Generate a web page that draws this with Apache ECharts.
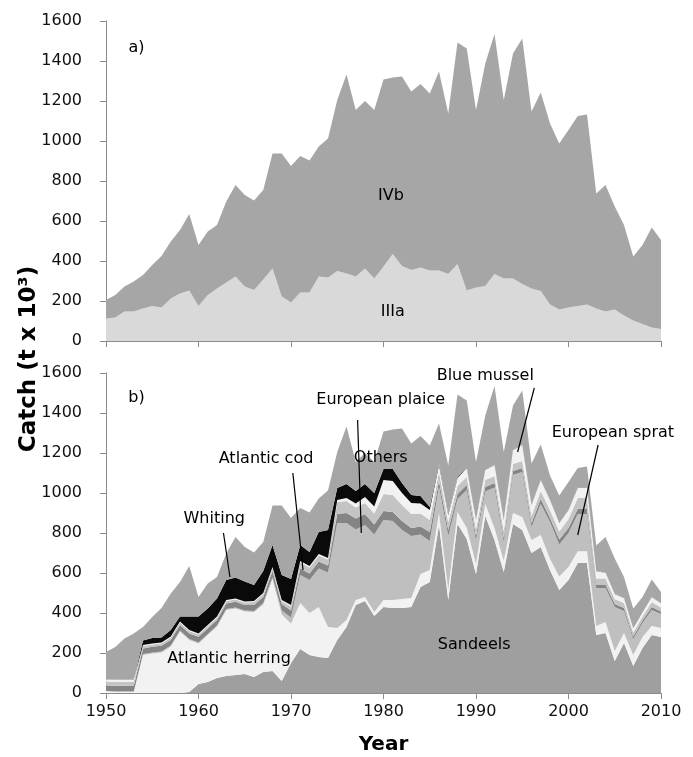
<!DOCTYPE html>
<html>
<head>
<meta charset="utf-8">
<title>Catch by area and species</title>
<script src="https://cdn.jsdelivr.net/npm/echarts@6/dist/echarts.min.js"></script>
<style>
  html, body { margin: 0; padding: 0; background: #fff; }
  #chart { width: 693px; height: 757px; }
</style>
</head>
<body>
<div id="chart"></div>
<script>
// years on the x axis
const years = [
  1950, 1951, 1952, 1953, 1954, 1955, 1956, 1957, 1958, 1959,
  1960, 1961, 1962, 1963, 1964, 1965, 1966, 1967, 1968, 1969,
  1970, 1971, 1972, 1973, 1974, 1975, 1976, 1977, 1978, 1979,
  1980, 1981, 1982, 1983, 1984, 1985, 1986, 1987, 1988, 1989,
  1990, 1991, 1992, 1993, 1994, 1995, 1996, 1997, 1998, 1999,
  2000, 2001, 2002, 2003, 2004, 2005, 2006, 2007, 2008, 2009,
  2010
]
const yTicks = [0, 200, 400, 600, 800, 1000, 1200, 1400, 1600]

// a) catch by area (t x 10^3)
const IIIa = [
  113, 118, 147, 147, 163, 175, 167, 213, 238, 252,
  175, 230, 263, 292, 322, 272, 255, 308, 363, 222,
  193, 243, 242, 322, 318, 350, 338, 322, 363, 313,
  372, 435, 375, 355, 367, 352, 352, 335, 385, 252,
  268, 275, 335, 312, 312, 285, 263, 250, 183, 158,
  167, 175, 183, 163, 147, 158, 127, 102, 85, 68,
  60
]
const IVb = [
  92, 112, 125, 150, 167, 205, 258, 284, 317, 383,
  305, 317, 317, 405, 458, 458, 447, 447, 575, 716,
  682, 682, 660, 650, 695, 855, 995, 833, 837, 842,
  936, 882, 947, 892, 918, 886, 995, 803, 1108, 1211,
  887, 1113, 1200, 893, 1126, 1228, 884, 992, 905, 830,
  888, 950, 950, 575, 633, 514, 453, 320, 395, 500,
  445
]

// b) catch by species (t x 10^3), bottom of the stack first
const sandeels = [
  0, 0, 0, 0, 0, 0, 0, 0, 0, 5,
  45, 55, 75, 85, 90, 95, 80, 105, 110, 60,
  150, 220, 190, 180, 175, 265, 330, 440, 460, 385,
  430, 425, 425, 430, 530, 555, 840, 465, 845, 770,
  595, 885, 765, 605, 845, 815, 700, 730, 615, 515,
  565, 650, 650, 290, 300, 160, 250, 135, 225, 290,
  280
]
const herring = [
  10, 8, 8, 8, 190, 198, 203, 232, 307, 260,
  203, 235, 257, 330, 333, 312, 325, 337, 460, 333,
  198, 230, 210, 250, 155, 60, 35, 25, 20, 20,
  35, 40, 45, 45, 65, 60, 60, 50, 60, 55,
  50, 60, 60, 55, 55, 65, 65, 60, 55, 67,
  65, 59, 59, 45, 55, 50, 50, 55, 55, 45,
  45
]
const sprat = [
  0, 0, 0, 0, 5, 5, 5, 5, 5, 5,
  5, 5, 5, 5, 5, 5, 5, 8, 10, 20,
  30, 140, 165, 193, 273, 525, 485, 353, 360, 387,
  400, 395, 345, 310, 198, 145, 130, 270, 65, 190,
  118, 63, 203, 95, 190, 225, 65, 155, 185, 160,
  170, 186, 186, 190, 170, 220, 110, 80, 70, 80,
  70
]
const plaice = [
  28, 28, 28, 28, 28, 28, 28, 28, 28, 28,
  28, 28, 28, 28, 28, 28, 30, 30, 30, 32,
  35, 33, 33, 35, 35, 45, 50, 55, 55, 50,
  45, 45, 45, 40, 40, 45, 30, 30, 25, 25,
  22, 22, 22, 20, 20, 20, 20, 25, 20, 25,
  25, 25, 25, 17, 18, 15, 15, 12, 12, 15,
  12
]
const cod = [
  20, 20, 20, 20, 12, 12, 12, 12, 12, 12,
  12, 12, 12, 12, 12, 12, 15, 15, 15, 15,
  20, 30, 30, 30, 30, 60, 60, 55, 55, 55,
  85, 85, 80, 70, 65, 60, 45, 40, 40, 40,
  35, 35, 35, 35, 35, 35, 35, 40, 40, 41,
  45, 55, 55, 30, 30, 25, 25, 20, 20, 25,
  20
]
const mussel = [
  10, 10, 10, 10, 5, 5, 5, 5, 5, 5,
  5, 5, 5, 5, 5, 5, 5, 5, 5, 5,
  7, 7, 7, 7, 7, 10, 15, 20, 30, 35,
  70, 70, 60, 55, 50, 50, 35, 35, 40, 45,
  45, 50, 55, 55, 70, 80, 55, 55, 50, 42,
  45, 50, 50, 35, 30, 25, 25, 20, 20, 25,
  20
]
const whiting = [
  0, 0, 0, 0, 22, 27, 25, 33, 25, 67,
  84, 83, 91, 100, 105, 100, 80, 110, 110, 125,
  130, 80, 70, 110, 140, 60, 70, 62, 65, 68,
  55, 60, 50, 40, 37, 15, 8, 5, 5, 3,
  1, 1, 1, 1, 1, 1, 1, 1, 1, 1,
  1, 1, 1, 1, 1, 1, 1, 1, 1, 1,
  1
]
const others = [
  137, 164, 206, 231, 68, 105, 147, 182, 173, 253,
  98, 124, 107, 132, 202, 173, 162, 145, 198, 348,
  305, 185, 197, 167, 198, 180, 288, 145, 155, 155,
  188, 197, 272, 257, 300, 308, 199, 243, 413, 335,
  289, 272, 394, 339, 222, 272, 206, 176, 122, 137,
  139, 99, 107, 130, 176, 176, 104, 99, 77, 87,
  57
]

const FONT = '"DejaVu Sans", Verdana, sans-serif'
const AXIS = '#8c8c8c'

const chart = echarts.init(document.getElementById('chart'), null, { renderer: 'canvas' })

// one stacked area layer
const layer = (name, vals, color, idx, stack) => ({
  name: name,
  type: 'line',
  xAxisIndex: idx,
  yAxisIndex: idx,
  stack: stack,
  symbol: 'none',
  silent: true,
  lineStyle: { width: 0 },
  areaStyle: { color: color, opacity: 1 },
  data: vals
})

const xAxisBase = (idx, showLabel) => ({
  type: 'category',
  gridIndex: idx,
  data: years,
  boundaryGap: false,
  splitLine: { show: false },
  axisLine: { lineStyle: { color: AXIS, width: 1 } },
  axisTick: { show: true, length: 6, interval: 9, lineStyle: { color: AXIS } },
  axisLabel: {
    show: showLabel,
    interval: 9,
    color: '#111',
    fontSize: 16,
    fontFamily: FONT,
    margin: 11
  }
})

const yAxisBase = (idx) => ({
  type: 'value',
  gridIndex: idx,
  min: yTicks[0],
  max: yTicks[yTicks.length - 1],
  interval: 200,
  splitLine: { show: false },
  axisLine: { show: true, lineStyle: { color: AXIS, width: 1 } },
  axisTick: { show: true, length: 6, lineStyle: { color: AXIS } },
  axisLabel: {
    color: '#111',
    fontSize: 16,
    fontFamily: FONT,
    margin: 24,
    formatter: v => String(v)
  }
})

const option = {
  animation: false,
  backgroundColor: '#fff',
  grid: [
    { left: 106, top: 21, width: 555, height: 320 },
    { left: 106, top: 373, width: 555, height: 320 }
  ],
  xAxis: [
    xAxisBase(0, false),
    Object.assign(xAxisBase(1, true), {
      name: 'Year',
      nameLocation: 'middle',
      nameGap: 42,
      nameTextStyle: { fontSize: 20, fontWeight: 'bold', color: '#000', fontFamily: FONT }
    })
  ],
  yAxis: [yAxisBase(0), yAxisBase(1)],
  series: [
    layer('IIIa', IIIa, '#d9d9d9', 0, 'area'),
    layer('IVb', IVb, '#a6a6a6', 0, 'area'),
    layer('Sandeels', sandeels, '#9f9f9f', 1, 'species'),
    layer('Atlantic herring', herring, '#f2f2f2', 1, 'species'),
    layer('European sprat', sprat, '#bfbfbf', 1, 'species'),
    layer('European plaice', plaice, '#858585', 1, 'species'),
    layer('Atlantic cod', cod, '#c4c4c4', 1, 'species'),
    layer('Blue mussel', mussel, '#f2f2f2', 1, 'species'),
    layer('Whiting', whiting, '#0a0a0a', 1, 'species'),
    layer('Others', others, '#a6a6a6', 1, 'species')
  ]
}
chart.setOption(option)

// pixel position of a (year, value) point in a panel
const toPx = (grid, year, value) => {
  const x0 = chart.convertToPixel({ gridIndex: grid }, [0, 0])[0]
  const x1 = chart.convertToPixel({ gridIndex: grid }, [years.length - 1, 0])[0]
  const y = chart.convertToPixel({ gridIndex: grid }, [0, value])[1]
  const x = x0 + (year - years[0]) / (years[years.length - 1] - years[0]) * (x1 - x0)
  return [x, y]
}

// labels and leader lines, placed in data coordinates: [text, grid, year, value]
const labels = [
  ['a)', 0, 1953.3, 1465],
  ['IVb', 0, 1980.8, 725],
  ['IIIa', 0, 1981, 145],
  ['b)', 1, 1953.3, 1475],
  ['Whiting', 1, 1961.7, 870],
  ['Atlantic cod', 1, 1967.3, 1170],
  ['European plaice', 1, 1979.7, 1465],
  ['Others', 1, 1979.7, 1175],
  ['Blue mussel', 1, 1991, 1585],
  ['European sprat', 1, 2004.8, 1300],
  ['Atlantic herring', 1, 1963.3, 170],
  ['Sandeels', 1, 1989.8, 240]
]
const leaders = [
  [1962.7, 800, 1963.4, 580],
  [1970.2, 1100, 1971.3, 615],
  [1977.2, 1365, 1977.6, 800],
  [1996.3, 1525, 1994.5, 1205],
  [2003.2, 1240, 2001, 790]
]

const graphic = []
labels.forEach(l => {
  const p = toPx(l[1], l[2], l[3])
  graphic.push({
    type: 'text',
    x: p[0],
    y: p[1],
    silent: true,
    z: 10,
    style: {
      text: l[0],
      font: '16px ' + FONT,
      fill: '#000',
      textAlign: 'center',
      textVerticalAlign: 'middle'
    }
  })
})
leaders.forEach(d => {
  const a = toPx(1, d[0], d[1])
  const b = toPx(1, d[2], d[3])
  graphic.push({
    type: 'line',
    silent: true,
    z: 10,
    shape: { x1: a[0], y1: a[1], x2: b[0], y2: b[1] },
    style: { stroke: '#000', lineWidth: 1.2 }
  })
})
// y axis title shared by both panels
graphic.push({
  type: 'text',
  x: 29,
  y: 359,
  rotation: Math.PI / 2,
  silent: true,
  style: {
    text: 'Catch (t x 10³)',
    font: 'bold 23px ' + FONT,
    fill: '#000',
    textAlign: 'center',
    textVerticalAlign: 'middle'
  }
})
chart.setOption({ graphic: graphic })
</script>
</body>
</html>
